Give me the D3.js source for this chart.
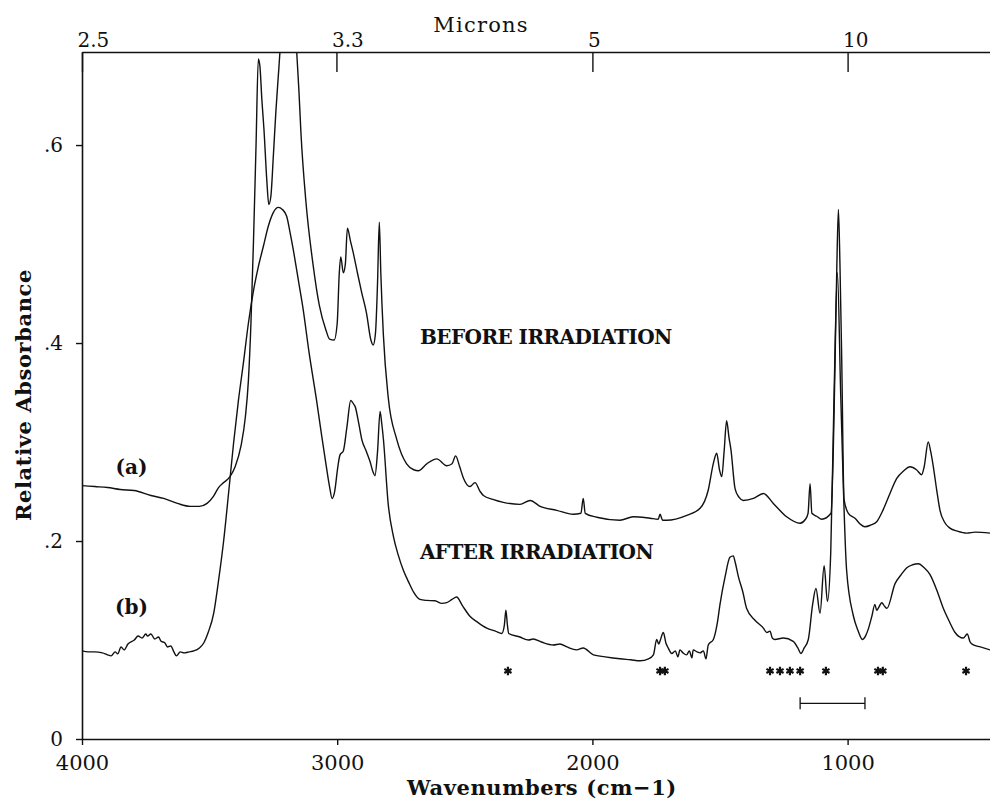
<!DOCTYPE html>
<html>
<head>
<meta charset="utf-8">
<script src="https://cdn.jsdelivr.net/npm/d3@7.8.5/dist/d3.min.js"></script>
<style>
  body { margin: 0; background: #fff; }
  svg { display: block; }
  text { font-family: "DejaVu Serif", serif; fill: #111; }
</style>
</head>
<body>
<div id="chart"></div>
<script>
// axis ticks
const wavenumberTicks = [4000, 3000, 2000, 1000];
const absorbanceTicks = [0, 0.2, 0.4, 0.6];
const absorbanceTickLabels = ["0", ".2", ".4", ".6"];
const micronTicks = [2.5, 3.33, 5, 10];
const micronTickLabels = ["2.5", "3.3", "5", "10"];

// [wavenumber cm-1, relative absorbance]
const spectrumBefore = [
  [4000, 0.256], [3950, 0.255], [3900, 0.254], [3850, 0.252], [3796, 0.251],
  [3730, 0.246], [3680, 0.243], [3626, 0.238], [3575, 0.235], [3540, 0.235],
  [3510, 0.238], [3485, 0.245], [3465, 0.254], [3445, 0.259], [3420, 0.265],
  [3400, 0.275], [3377, 0.296], [3360, 0.325], [3348, 0.362], [3338, 0.42],
  [3328, 0.503], [3318, 0.6], [3309, 0.687], [3303, 0.68], [3295, 0.645],
  [3287, 0.616], [3276, 0.565], [3268, 0.54], [3260, 0.548], [3250, 0.59],
  [3240, 0.635], [3228, 0.68], [3215, 0.73], [3195, 0.8], [3175, 0.78],
  [3160, 0.7], [3150, 0.655], [3142, 0.612], [3123, 0.544], [3095, 0.48],
  [3070, 0.438], [3044, 0.413], [3030, 0.404], [3012, 0.403], [3000, 0.42],
  [2992, 0.47], [2986, 0.487], [2976, 0.471], [2968, 0.48], [2960, 0.516],
  [2948, 0.503], [2937, 0.491], [2920, 0.47], [2904, 0.451], [2885, 0.43],
  [2868, 0.403], [2859, 0.398], [2850, 0.41], [2842, 0.46], [2835, 0.522],
  [2829, 0.47], [2819, 0.408], [2800, 0.345], [2767, 0.303], [2728, 0.278],
  [2700, 0.272], [2682, 0.271], [2649, 0.278], [2610, 0.283], [2571, 0.276],
  [2550, 0.278], [2536, 0.286], [2520, 0.275], [2506, 0.264], [2480, 0.255],
  [2460, 0.259], [2440, 0.25], [2427, 0.246], [2390, 0.242], [2349, 0.239],
  [2284, 0.237], [2244, 0.241], [2205, 0.235], [2140, 0.231], [2075, 0.227],
  [2045, 0.228], [2036, 0.243], [2028, 0.228], [1983, 0.224], [1892, 0.221],
  [1840, 0.2245], [1774, 0.223], [1742, 0.222], [1735, 0.227], [1725, 0.221],
  [1709, 0.221], [1630, 0.226], [1578, 0.233], [1546, 0.2515], [1526, 0.2785],
  [1513, 0.2886], [1502, 0.272], [1493, 0.265], [1484, 0.29], [1474, 0.3215],
  [1465, 0.305], [1457, 0.292], [1441, 0.253], [1425, 0.244], [1409, 0.241],
  [1369, 0.243], [1330, 0.248], [1291, 0.238], [1239, 0.2245], [1186, 0.218],
  [1165, 0.222], [1155, 0.228], [1147, 0.258], [1140, 0.228], [1121, 0.225],
  [1101, 0.222], [1065, 0.228], [1056, 0.292], [1049, 0.383], [1042, 0.48],
  [1036, 0.535], [1030, 0.48], [1023, 0.383], [1014, 0.242], [997, 0.228],
  [971, 0.223], [950, 0.217], [932, 0.2144], [910, 0.216], [886, 0.2195],
  [860, 0.232], [834, 0.248], [808, 0.263], [780, 0.271], [755, 0.275],
  [730, 0.272], [710, 0.267], [700, 0.275], [684, 0.3], [674, 0.29],
  [664, 0.275], [650, 0.25], [638, 0.231], [620, 0.219], [599, 0.213],
  [570, 0.21], [533, 0.208], [500, 0.209], [442, 0.208]
];

const spectrumAfter = [
  [4000, 0.089], [3975, 0.088], [3951, 0.088], [3920, 0.087], [3900, 0.085],
  [3886, 0.084], [3870, 0.088], [3860, 0.086], [3847, 0.093], [3835, 0.09],
  [3820, 0.096], [3795, 0.1], [3780, 0.104], [3765, 0.102], [3750, 0.106],
  [3743, 0.104], [3730, 0.106], [3715, 0.101], [3700, 0.103], [3691, 0.099],
  [3675, 0.097], [3665, 0.093], [3652, 0.094], [3640, 0.088], [3630, 0.084],
  [3615, 0.088], [3600, 0.087], [3580, 0.088], [3562, 0.089], [3540, 0.092],
  [3523, 0.097], [3505, 0.108], [3484, 0.127], [3465, 0.16], [3445, 0.2],
  [3425, 0.25], [3406, 0.299], [3387, 0.342], [3367, 0.381], [3348, 0.42],
  [3328, 0.453], [3310, 0.476], [3289, 0.498], [3270, 0.518], [3250, 0.532],
  [3231, 0.537], [3215, 0.535], [3198, 0.528], [3185, 0.512], [3172, 0.494],
  [3150, 0.46], [3134, 0.435], [3110, 0.39], [3082, 0.344], [3060, 0.305],
  [3043, 0.276], [3030, 0.255], [3020, 0.243], [3010, 0.25], [2997, 0.276],
  [2989, 0.287], [2976, 0.291], [2962, 0.315], [2947, 0.342], [2935, 0.338],
  [2930, 0.336], [2915, 0.318], [2904, 0.303], [2885, 0.29], [2871, 0.28],
  [2860, 0.27], [2852, 0.266], [2842, 0.29], [2832, 0.331], [2826, 0.32],
  [2819, 0.303], [2800, 0.237], [2780, 0.205], [2761, 0.186], [2740, 0.17],
  [2721, 0.159], [2700, 0.148], [2676, 0.141], [2650, 0.14], [2617, 0.1396],
  [2590, 0.137], [2571, 0.1377], [2550, 0.141], [2532, 0.1434], [2510, 0.135],
  [2480, 0.124], [2450, 0.118], [2414, 0.112], [2380, 0.109], [2355, 0.1066],
  [2345, 0.115], [2339, 0.13], [2333, 0.115], [2328, 0.1066], [2284, 0.103],
  [2250, 0.1], [2232, 0.101], [2200, 0.098], [2153, 0.095], [2127, 0.096],
  [2100, 0.093], [2062, 0.09], [2036, 0.092], [1996, 0.085], [1950, 0.083],
  [1892, 0.081], [1850, 0.08], [1813, 0.079], [1780, 0.081], [1761, 0.085],
  [1748, 0.1005], [1740, 0.096], [1735, 0.099], [1722, 0.1076], [1712, 0.097],
  [1703, 0.092], [1689, 0.0864], [1675, 0.089], [1665, 0.083], [1657, 0.09],
  [1645, 0.087], [1631, 0.085], [1620, 0.089], [1610, 0.082], [1605, 0.09],
  [1590, 0.088], [1578, 0.087], [1565, 0.089], [1555, 0.081], [1546, 0.095],
  [1526, 0.1005], [1510, 0.118], [1500, 0.136], [1480, 0.164], [1461, 0.1835],
  [1448, 0.185], [1440, 0.178], [1428, 0.164], [1410, 0.148], [1396, 0.132],
  [1363, 0.12], [1330, 0.112], [1317, 0.1076], [1304, 0.109], [1295, 0.102],
  [1285, 0.1005], [1252, 0.102], [1213, 0.0987], [1195, 0.092], [1183, 0.0864],
  [1170, 0.092], [1154, 0.1005], [1137, 0.136], [1124, 0.152], [1108, 0.127],
  [1092, 0.175], [1079, 0.139], [1066, 0.189], [1053, 0.348], [1040, 0.471],
  [1027, 0.348], [1004, 0.171], [978, 0.125], [960, 0.11], [942, 0.1005],
  [930, 0.104], [919, 0.111], [905, 0.124], [893, 0.136], [886, 0.13],
  [880, 0.132], [866, 0.1376], [855, 0.134], [846, 0.132], [814, 0.157],
  [790, 0.166], [768, 0.173], [745, 0.176], [723, 0.177], [700, 0.173],
  [677, 0.166], [650, 0.15], [625, 0.132], [600, 0.118], [579, 0.1076],
  [547, 0.102], [531, 0.106], [520, 0.098], [507, 0.095], [480, 0.093],
  [442, 0.09]
];

// marked bands (asterisks) and the bracketed range, in cm-1
const starWavenumbers = [2331, 1735, 1716, 1304, 1265, 1226, 1186, 1085, 881, 862, 536];
const bracketRange = [1186, 932];

const width = 990;
const height = 804;
const margin = { top: 52, right: 0, bottom: 65, left: 82 };

const svg = d3
  .select("#chart")
  .append("svg")
  .attr("width", width)
  .attr("height", height);

const x = d3
  .scaleLinear()
  .domain([4000, 442])
  .range([margin.left, width - margin.right]);

const y = d3
  .scaleLinear()
  .domain([0, 0.694])
  .range([height - margin.bottom, margin.top]);

svg
  .append("clipPath")
  .attr("id", "plot-clip")
  .append("rect")
  .attr("x", margin.left)
  .attr("y", margin.top)
  .attr("width", width - margin.left - margin.right)
  .attr("height", height - margin.top - margin.bottom);

// spectra
const line = d3
  .line()
  .x((d) => x(d[0]))
  .y((d) => y(d[1]))
  .curve(d3.curveMonotoneX);

const curves = svg.append("g").attr("clip-path", "url(#plot-clip)");
[spectrumBefore, spectrumAfter].forEach((series) => {
  curves
    .append("path")
    .datum(series)
    .attr("fill", "none")
    .attr("stroke", "#111")
    .attr("stroke-width", 1.4)
    .attr("stroke-linejoin", "round")
    .attr("d", line);
});

// axes
const bottomAxis = svg
  .append("g")
  .attr("transform", `translate(0, ${height - margin.bottom})`)
  .call(
    d3
      .axisBottom(x)
      .tickValues(wavenumberTicks)
      .tickFormat(d3.format("d"))
      .tickSize(6)
      .tickSizeOuter(0)
      .tickPadding(10),
  );

const leftAxis = svg
  .append("g")
  .attr("transform", `translate(${margin.left}, 0)`)
  .call(
    d3
      .axisLeft(y)
      .tickValues(absorbanceTicks)
      .tickFormat((d, i) => absorbanceTickLabels[i])
      .tickSize(6)
      .tickSizeOuter(0)
      .tickPadding(13),
  );

const topAxis = svg
  .append("g")
  .attr("transform", `translate(0, ${margin.top})`)
  .call(
    d3
      .axisTop(x)
      .tickValues(micronTicks.map((m) => 10000 / m))
      .tickFormat((d, i) => micronTickLabels[i])
      .tickSize(-20)
      .tickSizeOuter(0)
      .tickPadding(5),
  );
topAxis.selectAll(".tick text").attr("text-anchor", "start").attr("dx", -5);

svg.selectAll(".domain").attr("stroke", "#111").attr("stroke-width", 1.6);
svg.selectAll(".tick line").attr("stroke", "#111").attr("stroke-width", 1.4);
svg
  .selectAll(".tick text")
  .style("font-family", "DejaVu Serif")
  .style("font-size", "21px")
  .style("fill", "#111");
topAxis.selectAll(".tick text").style("font-size", "20px");
leftAxis.selectAll(".tick text").style("font-size", "20px");

// axis titles
svg
  .append("text")
  .attr("x", 481)
  .attr("y", 32)
  .attr("text-anchor", "middle")
  .style("font-size", "21px")
  .style("letter-spacing", "1.2px")
  .text("Microns");

svg
  .append("text")
  .attr("x", 542)
  .attr("y", 795)
  .attr("text-anchor", "middle")
  .style("font-size", "21px")
  .style("font-weight", "bold")
  .style("letter-spacing", "0.6px")
  .text("Wavenumbers (cm\u22121)");

svg
  .append("text")
  .attr("transform", "translate(31, 395) rotate(-90)")
  .attr("text-anchor", "middle")
  .style("font-size", "21px")
  .style("font-weight", "bold")
  .style("letter-spacing", "0.6px")
  .text("Relative Absorbance");

// curve labels
const labels = [
  { text: "BEFORE IRRADIATION", w: 2676, v: 0.399, anchor: "start" },
  { text: "AFTER IRRADIATION", w: 2676, v: 0.182, anchor: "start" },
  { text: "(a)", w: 3806, v: 0.268, anchor: "middle" },
  { text: "(b)", w: 3806, v: 0.126, anchor: "middle" },
];
svg
  .selectAll(".curve-label")
  .data(labels)
  .enter()
  .append("text")
  .attr("class", "curve-label")
  .attr("x", (d) => x(d.w))
  .attr("y", (d) => y(d.v))
  .attr("text-anchor", (d) => d.anchor)
  .style("font-size", "20px")
  .style("font-weight", "bold")
  .style("letter-spacing", (d) => (d.anchor === "start" ? "-0.55px" : "0px"))
  .text((d) => d.text);

// asterisks under the new bands
const starY = y(0.0687);
svg
  .selectAll(".star")
  .data(starWavenumbers)
  .enter()
  .append("path")
  .attr("class", "star")
  .attr("transform", (d) => `translate(${x(d)}, ${starY})`)
  .attr("d", d3.symbol(d3.symbolAsterisk, 48))
  .attr("fill", "none")
  .attr("stroke", "#111")
  .attr("stroke-width", 2.2);

// bracket
const bracketY = y(0.036);
const bracket = svg
  .append("g")
  .attr("fill", "none")
  .attr("stroke", "#111")
  .attr("stroke-width", 1.3);
bracket
  .append("line")
  .attr("x1", x(bracketRange[0]))
  .attr("x2", x(bracketRange[1]))
  .attr("y1", bracketY)
  .attr("y2", bracketY);
bracketRange.forEach((w) => {
  bracket
    .append("line")
    .attr("x1", x(w))
    .attr("x2", x(w))
    .attr("y1", bracketY - 6)
    .attr("y2", bracketY + 6);
});
</script>
</body>
</html>
